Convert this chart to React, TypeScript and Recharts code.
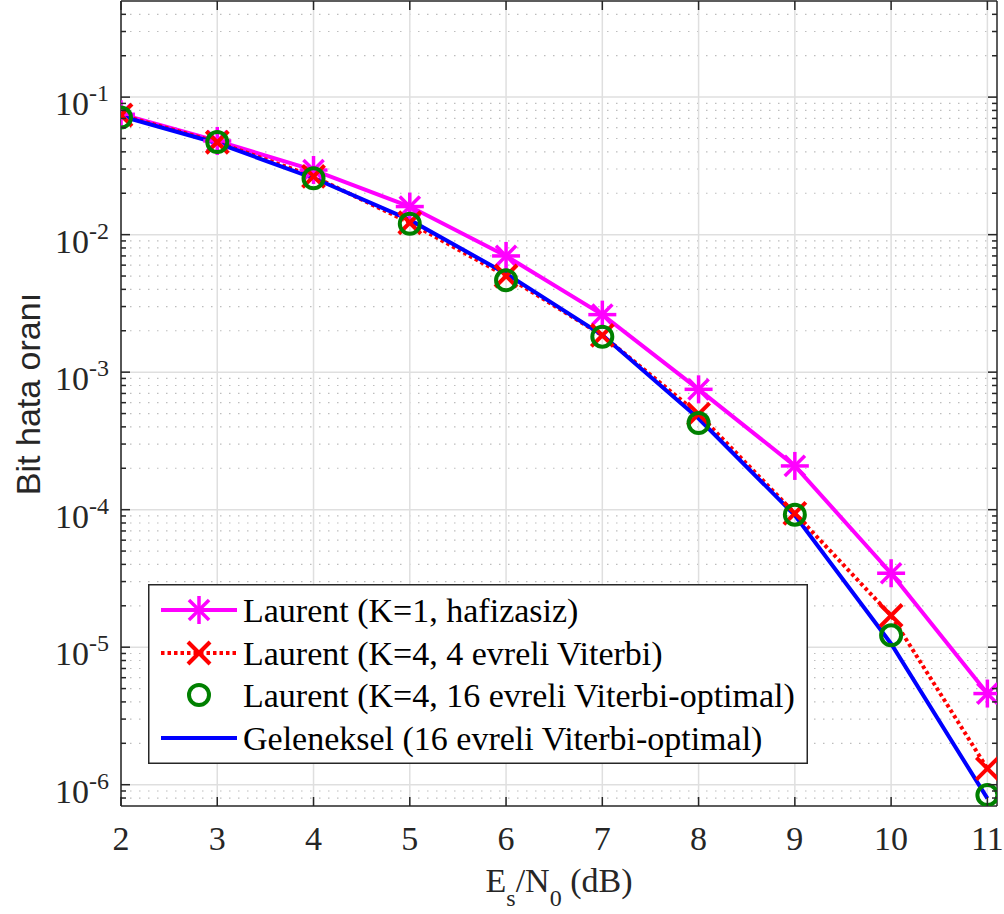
import React from 'react';
import { LineChart, Line, XAxis, YAxis, CartesianGrid, Legend } from 'recharts';

// E_s/N_0 (dB)
const snr = [2, 3, 4, 5, 6, 7, 8, 9, 10, 11];
// bit error rates
const laurentMemoryless = [0.075, 0.048, 0.0295, 0.016, 0.007, 0.00262, 7.5e-4, 2.08e-4, 3.45e-5, 4.6e-6];
const laurentViterbi4 = [0.074, 0.047, 0.0265, 0.0122, 0.005, 0.00185, 4.95e-4, 9.4e-5, 1.7e-5, 1.31e-6];
const laurentViterbi16 = [0.071, 0.0471, 0.0257, 0.012, 0.00466, 0.00181, 4.27e-4, 9.2e-5, 1.22e-5, 8.4e-7];
const geleneksel = [0.0728, 0.0462, 0.0258, 0.0128, 0.0052, 0.00186, 4.6e-4, 9.1e-5, 1.06e-5, 7.95e-7];

const legendLabels = [
  'Laurent (K=1, hafizasiz)',
  'Laurent (K=4, 4 evreli Viterbi)',
  'Laurent (K=4, 16 evreli Viterbi-optimal)',
  'Geleneksel (16 evreli Viterbi-optimal)',
];

const xTicks = [2, 3, 4, 5, 6, 7, 8, 9, 10, 11];
const decades = [1e-6, 1e-5, 1e-4, 1e-3, 1e-2, 1e-1];
const decadeExponents = ['-6', '-5', '-4', '-3', '-2', '-1'];
const minorSteps = [2, 3, 4, 5, 6, 7, 8, 9];

const X_DOMAIN: [number, number] = [2, 11.1];
const Y_DOMAIN: [number, number] = [7e-7, 0.5];

const data = snr.map((x, i) => ({
  x,
  k1: laurentMemoryless[i],
  k4v4: laurentViterbi4[i],
  k4v16: laurentViterbi16[i],
  conv: geleneksel[i],
}));

const minorTicks: number[] = [];
[1e-7, ...decades].forEach((d) => {
  minorSteps.forEach((m) => {
    const v = m * d;
    if (v > Y_DOMAIN[0] * 1.001 && v < Y_DOMAIN[1] * 0.999) minorTicks.push(v);
  });
});
const allYTicks = [...decades, ...minorTicks].sort((a, b) => a - b);

const W = 1004;
const H = 914;
// axes get 1px each, so plot area is 121..997 x 1..806
const MARGIN = { top: 0, right: 6, bottom: 107, left: 120 };
const PLOT_LEFT = MARGIN.left + 1;
const PLOT_RIGHT = W - MARGIN.right - 1;
const PLOT_TOP = MARGIN.top + 1;
const PLOT_BOTTOM = H - MARGIN.bottom - 1;

const AXIS = '#262626';
const SERIF = "'Liberation Serif', 'Times New Roman', serif";
const SANS = "'Liberation Sans', Arial, sans-serif";
const MAGENTA = '#ff00ff';
const RED = '#ff0000';
const GREEN = '#008000';
const BLUE = '#0000ff';

const isMajor = (v: number) => decades.findIndex((d) => Math.abs(d - v) / d < 1e-6);

const Star = ({ cx, cy, s = 14 }: any) => {
  const d = s * 0.72;
  return (
    <g stroke={MAGENTA} strokeWidth={3.5}>
      <line x1={cx} y1={cy - s} x2={cx} y2={cy + s} />
      <line x1={cx - s} y1={cy} x2={cx + s} y2={cy} />
      <line x1={cx - d} y1={cy - d} x2={cx + d} y2={cy + d} />
      <line x1={cx - d} y1={cy + d} x2={cx + d} y2={cy - d} />
    </g>
  );
};

const Cross = ({ cx, cy, s = 11 }: any) => (
  <g stroke={RED} strokeWidth={4}>
    <line x1={cx - s} y1={cy - s} x2={cx + s} y2={cy + s} />
    <line x1={cx - s} y1={cy + s} x2={cx + s} y2={cy - s} />
  </g>
);

const Ring = ({ cx, cy, r = 10 }: any) => (
  <circle cx={cx} cy={cy} r={r} fill="none" stroke={GREEN} strokeWidth={4} />
);

const YTickLeft = (props: any) => {
  const { y, payload } = props;
  const i = isMajor(payload.value);
  return (
    <g>
      <line x1={PLOT_LEFT} x2={PLOT_LEFT + (i >= 0 ? 9 : 5)} y1={y} y2={y} stroke={AXIS} strokeWidth={1.5} />
      {i >= 0 && (
        <text x={PLOT_LEFT - 12} y={y + 18} textAnchor="end" fontFamily={SERIF} fill={AXIS}>
          <tspan fontSize={34}>10</tspan>
          <tspan fontSize={24} dy={-14}>{decadeExponents[i]}</tspan>
        </text>
      )}
    </g>
  );
};

const YTickRight = (props: any) => {
  const { y, payload } = props;
  const len = isMajor(payload.value) >= 0 ? 9 : 5;
  return <line x1={PLOT_RIGHT} x2={PLOT_RIGHT - len} y1={y} y2={y} stroke={AXIS} strokeWidth={1.5} />;
};

const XTickBottom = (props: any) => {
  const { x, payload } = props;
  return (
    <g>
      <line x1={x} x2={x} y1={PLOT_BOTTOM} y2={PLOT_BOTTOM - 9} stroke={AXIS} strokeWidth={1.5} />
      <text x={x} y={850} textAnchor="middle" fontFamily={SERIF} fontSize={34} fill={AXIS}>
        {payload.value}
      </text>
    </g>
  );
};

const XTickTop = (props: any) => {
  const { x } = props;
  return <line x1={x} x2={x} y1={PLOT_TOP} y2={PLOT_TOP + 9} stroke={AXIS} strokeWidth={1.5} />;
};

const XTitle = () => (
  <text x={(PLOT_LEFT + PLOT_RIGHT) / 2} y={892} textAnchor="middle" fontFamily={SERIF} fill={AXIS} fontSize={34}>
    <tspan>E</tspan>
    <tspan fontSize={24} dy={14}>s</tspan>
    <tspan dy={-14}>/N</tspan>
    <tspan fontSize={24} dy={14}>0</tspan>
    <tspan dy={-14}> (dB)</tspan>
  </text>
);

const YTitle = () => (
  <text
    x={40}
    y={394}
    transform="rotate(-90 40 394)"
    textAnchor="middle"
    fontFamily={SANS}
    fontSize={34}
    fill={AXIS}
  >
    Bit hata oranı
  </text>
);

const LegendBox = () => {
  const rows = [26, 69, 111, 154];
  return (
    <svg width={660} height={180} style={{ display: 'block' }}>
      <rect x={0.75} y={0.75} width={658.5} height={178.5} fill="#ffffff" stroke={AXIS} strokeWidth={1.5} />
      <line x1={13} x2={89} y1={rows[0]} y2={rows[0]} stroke={MAGENTA} strokeWidth={4} />
      <Star cx={51} cy={rows[0]} />
      <line x1={13} x2={89} y1={rows[1]} y2={rows[1]} stroke={RED} strokeWidth={4} strokeDasharray="3.5 3" />
      <Cross cx={51} cy={rows[1]} />
      <Ring cx={51} cy={rows[2]} />
      <line x1={13} x2={89} y1={rows[3]} y2={rows[3]} stroke={BLUE} strokeWidth={4} />
      {legendLabels.map((label, i) => (
        <text key={label} x={95} y={rows[i] + 12} fontFamily={SERIF} fontSize={34} fill="#000000">
          {label}
        </text>
      ))}
    </svg>
  );
};

export default function App() {
  return (
    <div style={{ position: 'absolute', left: 0, top: 0, width: W, height: H, background: '#ffffff' }}>
      <LineChart width={W} height={H} data={data} margin={MARGIN}>
        <CartesianGrid
          horizontalValues={minorTicks}
          vertical={false}
          stroke="#bdbdbd"
          strokeWidth={1.2}
          strokeDasharray="1.5 7.5"
        />
        <CartesianGrid horizontalValues={decades} verticalValues={xTicks} stroke="#dfdfdf" strokeWidth={1.5} />
        <XAxis
          dataKey="x"
          type="number"
          domain={X_DOMAIN}
          allowDataOverflow
          ticks={xTicks}
          interval={0}
          height={1}
          tickLine={false}
          axisLine={{ stroke: AXIS, strokeWidth: 1.5 }}
          tick={<XTickBottom />}
          label={<XTitle />}
        />
        <XAxis
          xAxisId="top"
          orientation="top"
          dataKey="x"
          type="number"
          domain={X_DOMAIN}
          allowDataOverflow
          ticks={xTicks}
          interval={0}
          height={1}
          tickLine={false}
          axisLine={{ stroke: AXIS, strokeWidth: 1.5 }}
          tick={<XTickTop />}
        />
        <YAxis
          type="number"
          scale="log"
          domain={Y_DOMAIN}
          allowDataOverflow
          ticks={allYTicks}
          interval={0}
          width={1}
          tickLine={false}
          axisLine={{ stroke: AXIS, strokeWidth: 1.5 }}
          tick={<YTickLeft />}
          label={<YTitle />}
        />
        <YAxis
          yAxisId="right"
          orientation="right"
          type="number"
          scale="log"
          domain={Y_DOMAIN}
          allowDataOverflow
          ticks={allYTicks}
          interval={0}
          width={1}
          tickLine={false}
          axisLine={{ stroke: AXIS, strokeWidth: 1.5 }}
          tick={<YTickRight />}
        />
        <Line
          dataKey="k1"
          stroke={MAGENTA}
          strokeWidth={4}
          isAnimationActive={false}
          dot={(p: any) => <Star key={`k1-${p.index}`} cx={p.cx} cy={p.cy} />}
        />
        <Line
          dataKey="k4v4"
          stroke={RED}
          strokeWidth={4}
          strokeDasharray="3.5 3"
          isAnimationActive={false}
          dot={(p: any) => <Cross key={`k4v4-${p.index}`} cx={p.cx} cy={p.cy} />}
        />
        <Line
          dataKey="k4v16"
          stroke="none"
          isAnimationActive={false}
          dot={(p: any) => <Ring key={`k4v16-${p.index}`} cx={p.cx} cy={p.cy} />}
        />
        <Line dataKey="conv" stroke={BLUE} strokeWidth={4} dot={false} isAnimationActive={false} />
        <Legend
          layout="vertical"
          align="center"
          verticalAlign="middle"
          content={() => <LegendBox />}
          wrapperStyle={{ left: 148, top: 584, width: 660, height: 180 }}
        />
      </LineChart>
    </div>
  );
}
